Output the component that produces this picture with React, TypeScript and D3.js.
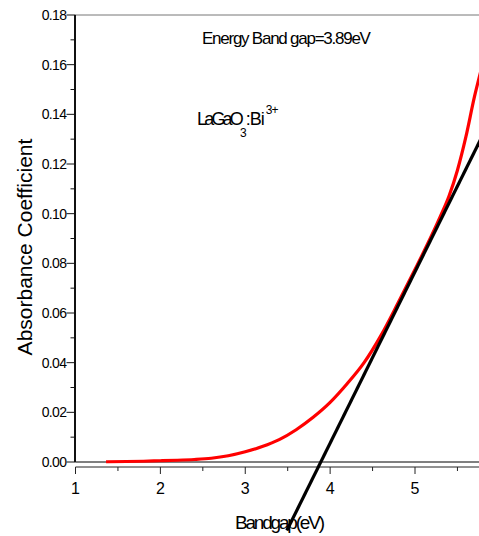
import React from "react";
import * as d3 from "d3";

const energyEV = [1.36, 1.6, 1.8, 2.0, 2.2, 2.4, 2.6, 2.8, 3.0, 3.2, 3.4, 3.6, 3.8, 4.0, 4.2, 4.4, 4.6, 4.8, 5.0, 5.2, 5.3, 5.4, 5.5, 5.6, 5.7, 5.78];
const absorbance = [0.0001, 0.0002, 0.0003, 0.0005, 0.0007, 0.001, 0.0015, 0.0025, 0.0041, 0.0062, 0.009, 0.013, 0.018, 0.024, 0.0315, 0.04, 0.051, 0.064, 0.0775, 0.0915, 0.099, 0.107, 0.1175, 0.131, 0.147, 0.158];
const fitX = [3.49, 5.8];
const fitY = [-0.0276, 0.1318];
const xTicks = [1, 2, 3, 4, 5];
const xMinorTicks = [1.5, 2.5, 3.5, 4.5, 5.5];
const yTicks = [0, 0.02, 0.04, 0.06, 0.08, 0.1, 0.12, 0.14, 0.16, 0.18];
const yMinorTicks = [0.01, 0.03, 0.05, 0.07, 0.09, 0.11, 0.13, 0.15, 0.17];

const W = 479;
const H = 536;
const x = d3.scaleLinear().domain([1, 5]).range([75.5, 415]);
const y = d3.scaleLinear().domain([0, 0.18]).range([462, 15]);

export default function App() {
  const curve = d3
    .line<number>()
    .x((_, i) => x(energyEV[i]))
    .y((d) => y(d))
    .curve(d3.curveMonotoneX)(absorbance) as string;
  const fit = d3
    .line<number>()
    .x((_, i) => x(fitX[i]))
    .y((d) => y(d))(fitY) as string;
  const font = "'Liberation Sans', Arial, sans-serif";
  const x0 = x(1);
  const xAxisY = 467;
  return (
    <svg width={W} height={H} style={{ position: "absolute", left: 0, top: 0, background: "#fff" }} fontFamily={font}>
      {/* top frame */}
      <line x1={x0} x2={W} y1={y(0.18)} y2={y(0.18)} stroke="#777" strokeWidth={1} />
      {/* zero line */}
      <line x1={x0} x2={W} y1={y(0)} y2={y(0)} stroke="#000" strokeWidth={1} />
      {/* x axis */}
      <line x1={x0} x2={W} y1={xAxisY} y2={xAxisY} stroke="#222" strokeWidth={1} />
      {xTicks.map((t) => (
        <g key={"xt" + t}>
          <line x1={x(t)} x2={x(t)} y1={xAxisY} y2={xAxisY + 7} stroke="#222" strokeWidth={1} />
          <text x={x(t)} y={494} fontSize={16} textAnchor="middle" fill="#000">
            {t}
          </text>
        </g>
      ))}
      {xMinorTicks.map((t) => (
        <line key={"xm" + t} x1={x(t)} x2={x(t)} y1={xAxisY} y2={xAxisY + 4} stroke="#222" strokeWidth={1} />
      ))}
      {/* y axis */}
      <line x1={x0 - 0.5} x2={x0 - 0.5} y1={y(0.18)} y2={y(0)} stroke="#111" strokeWidth={2} />
      {yTicks.map((t) => (
        <g key={"yt" + t}>
          <line x1={x0 - 9} x2={x0} y1={y(t)} y2={y(t)} stroke="#111" strokeWidth={1} />
          <text x={66.5} y={y(t) + 5} fontSize={14} letterSpacing={-0.6} textAnchor="end" fill="#000">
            {t.toFixed(2)}
          </text>
        </g>
      ))}
      {yMinorTicks.map((t) => (
        <line key={"ym" + t} x1={x0 - 5} x2={x0} y1={y(t)} y2={y(t)} stroke="#111" strokeWidth={1} />
      ))}
      {/* data */}
      <path d={curve} fill="none" stroke="#ff0000" strokeWidth={3.2} />
      <path d={fit} fill="none" stroke="#000" strokeWidth={3.2} />
      {/* labels */}
      <text transform="translate(32,247) rotate(-90)" fontSize={21} textAnchor="middle" fill="#000">
        Absorbance Coefficient
      </text>
      <text x={235} y={529} fontSize={19} letterSpacing={-2.2} fill="#000">
        Bandgap(eV)
      </text>
      <text x={202} y={44} fontSize={17} letterSpacing={-1.25} fill="#000">
        Energy Band gap=3.89eV
      </text>
      <text x={197} y={125} fontSize={18} letterSpacing={-2.8} fill="#000">
        LaGaO
        <tspan fontSize={12} dx={-1} dy={12} letterSpacing={0}>3</tspan>
        <tspan dx={-1} dy={-12} letterSpacing={-1}>:Bi</tspan>
        <tspan fontSize={12} dx={2} dy={-11} letterSpacing={-1}>3+</tspan>
      </text>
    </svg>
  );
}
